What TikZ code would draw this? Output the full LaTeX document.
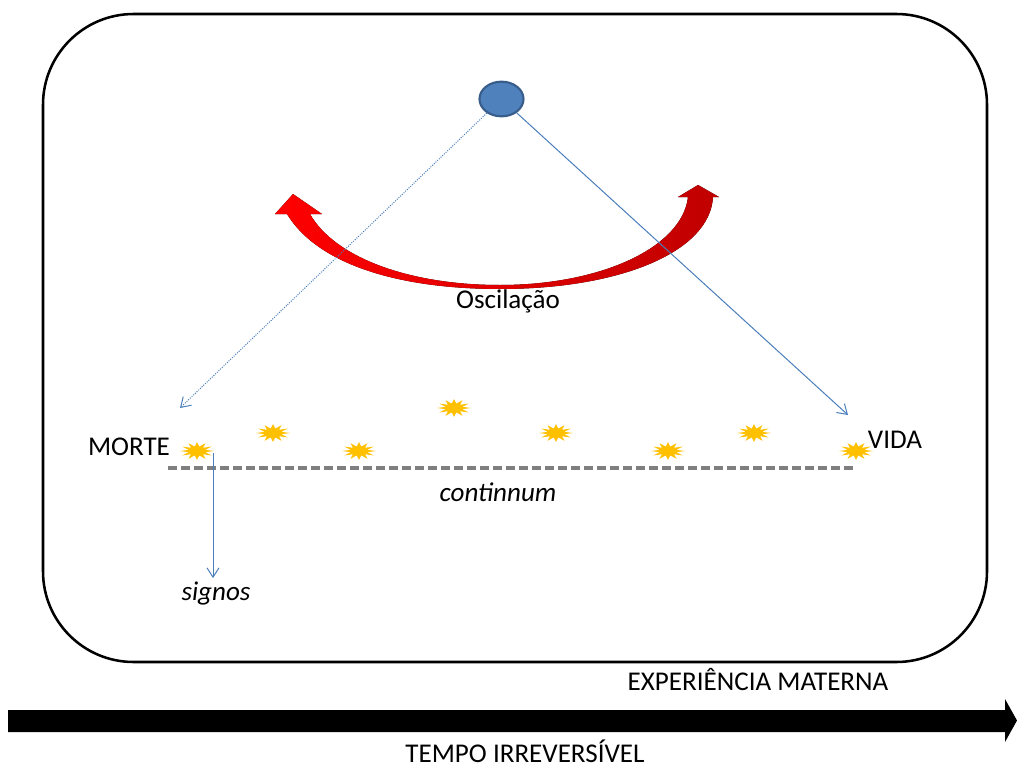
\documentclass[tikz,border=0pt]{standalone}
\usepackage{fontspec}
\setmainfont{Carlito}
\usetikzlibrary{arrows.meta,shapes.geometric}
\definecolor{gold}{HTML}{FFC000}
\definecolor{cblue}{HTML}{4F81BD}
\definecolor{cdark}{HTML}{385D8A}
\definecolor{lblue}{HTML}{4A7EBB}
\definecolor{dred}{HTML}{C00000}
\definecolor{dgray}{HTML}{7F7F7F}
\tikzset{
  lbl/.style={font=\fontsize{20.3}{24}\selectfont, inner sep=0pt, text=black},
  ilbl/.style={lbl, font=\fontsize{20.3}{24}\selectfont\itshape},
  link/.style={draw=lblue, line width=0.75pt, -{Straight Barb[length=7pt,width=9pt,line width=0.75pt]}},
}
\newcommand\myburst[2]{\fill[gold,shift={(#1,#2)}] (0:17 and 9) \foreach \a in {0,30,...,330}{ -- (\a+15:8.5 and 4.5) -- (\a+30:17 and 9)} -- cycle;}
\begin{document}
\begin{tikzpicture}[x=0.75pt,y=-0.75pt]
\useasboundingbox (0,0) rectangle (1017,767);
% outer rounded frame
\draw[line width=1.9pt, rounded corners=68pt] (43,14) rectangle (987,662);
% red oscillation arrow
\fill[left color=red, middle color=red, right color=dred, shading angle=90]
  (275,214) -- (293,194) -- (322,214) -- (310,214)
  .. controls (335,258) and (410,285) .. (500,285)
  .. controls (600,285) and (682,248) .. (688,197)
  -- (678,197) -- (698,185) -- (719,197) -- (713,197)
  .. controls (710,252) and (620,289) .. (500,289)
  .. controls (400,289) and (318,265) .. (287,214) -- cycle;
% circle
\node[draw=cdark, fill=cblue, line width=1.6pt, ellipse, minimum width=33pt, minimum height=26pt, inner sep=0pt] (c) at (501.5,99) {};
\coordinate (mt) at (180,408);
\coordinate (vt) at (848,415);
\draw[link, densely dotted] (c) -- (mt);
\draw[link] (c) -- (vt);
% continuum line
\draw[dgray, line width=2.3pt, dash pattern=on 6.75pt off 3pt] (168,468) -- (857,468);
% bursts
\myburst{197}{451}
\myburst{273}{433}
\myburst{359}{451}
\myburst{454}{408}
\myburst{556}{433}
\myburst{668}{451}
\myburst{754}{433}
\myburst{856}{451}
% labels
\node[lbl] (osc) at (508,301) {Oscilação};
\node[lbl] (morte) at (129,447) {MORTE};
\node[lbl] (vida) at (895,440) {VIDA};
\node[ilbl] (cont) at (498,492) {continnum};
\node[ilbl] (signos) at (216,594) {signos};
\coordinate (sg) at (213,453);
\draw[link] (sg) -- ([yshift=3pt]signos.north -| sg);
\node[lbl] (exp) at (758,680) {EXPERIÊNCIA MATERNA};
\node[lbl] (tempo) at (525,751) {TEMPO IRREVERSÍVEL};
% time arrow
\fill[black] (8,710) -- (1005,710) -- (1005,699) -- (1017,720.5) -- (1005,742) -- (1005,732) -- (8,732) -- cycle;
\end{tikzpicture}
\end{document}
